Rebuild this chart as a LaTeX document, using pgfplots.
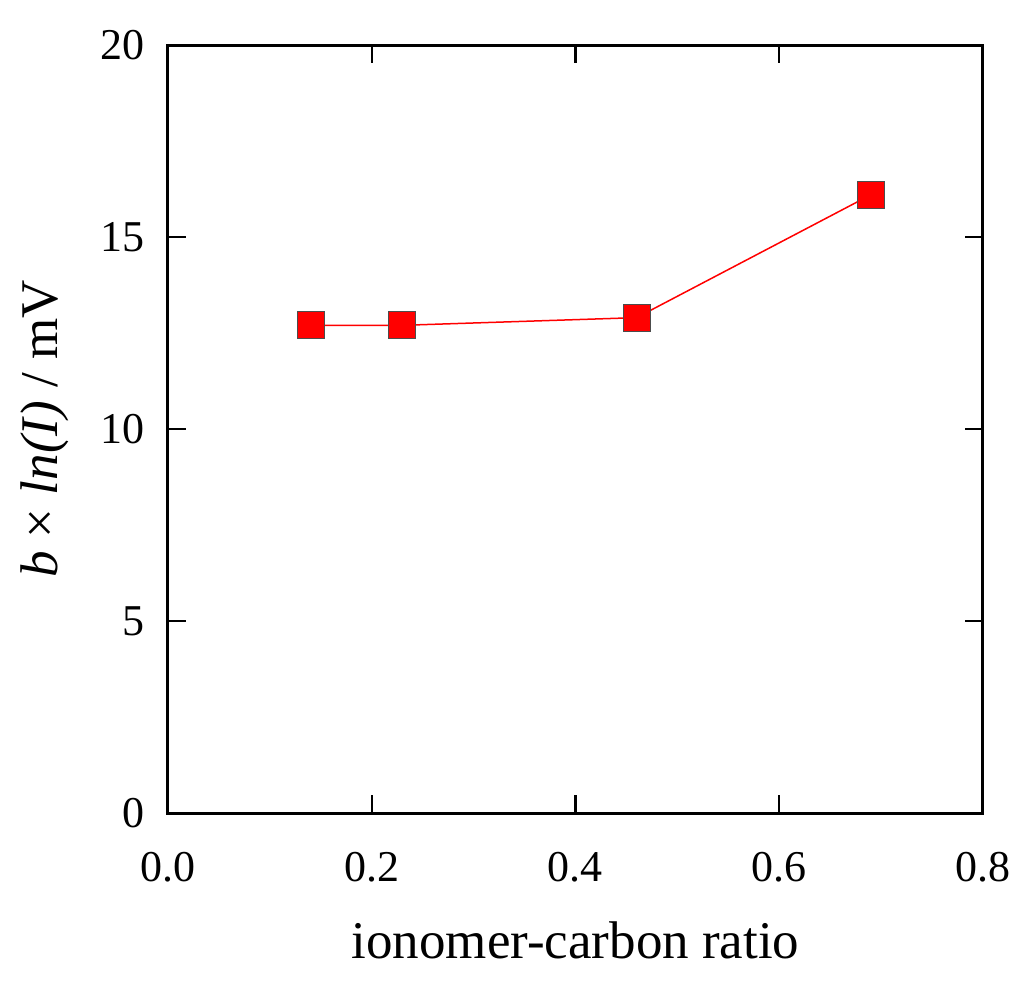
\documentclass[border=0pt]{standalone}
\usepackage{fontspec}
\setmainfont{Liberation Serif}
\usepackage{pgfplots}
\pgfplotsset{compat=1.18}
\begin{document}
\begin{tikzpicture}
\path[use as bounding box] (-84pt,-90pt) rectangle (428pt,406.5pt);
\begin{axis}[
  at={(0,0)}, anchor=south west,
  scale only axis, width=407.5pt, height=384pt,
  xmin=0, xmax=0.8, ymin=0, ymax=20,
  xtick={0,0.2,0.4,0.6,0.8}, ytick={0,5,10,15,20},
  minor tick num=0,
  tick align=inside, major tick length=9pt,
  tick style={line width=1.2pt, black},
  axis line style={line width=1.5pt},
  x tick label style={/pgf/number format/fixed, /pgf/number format/fixed zerofill, /pgf/number format/precision=1, yshift=-16pt},
  /pgf/number format/assume math mode=true,
  tick label style={font=\fontsize{22pt}{26pt}\selectfont},
  y tick label style={xshift=-8pt},
  xlabel={ionomer-carbon ratio},
  ylabel={\textit{b} × \textit{ln(I)} / mV},
  label style={font=\fontsize{26.5pt}{30pt}\selectfont},
  xlabel style={at={(axis description cs:0.5,-0.1654)}, anchor=center},
  ylabel style={at={(axis description cs:-0.151,0.5)}, anchor=center},
]
\addplot[red, line width=0.75pt, mark=square*, mark size=6.75pt,
  mark options={fill=red, draw=black!70, line width=0.6pt}]
  coordinates {(0.14,12.7) (0.23,12.7) (0.46,12.9) (0.69,16.1)};
\end{axis}
\end{tikzpicture}
\end{document}
